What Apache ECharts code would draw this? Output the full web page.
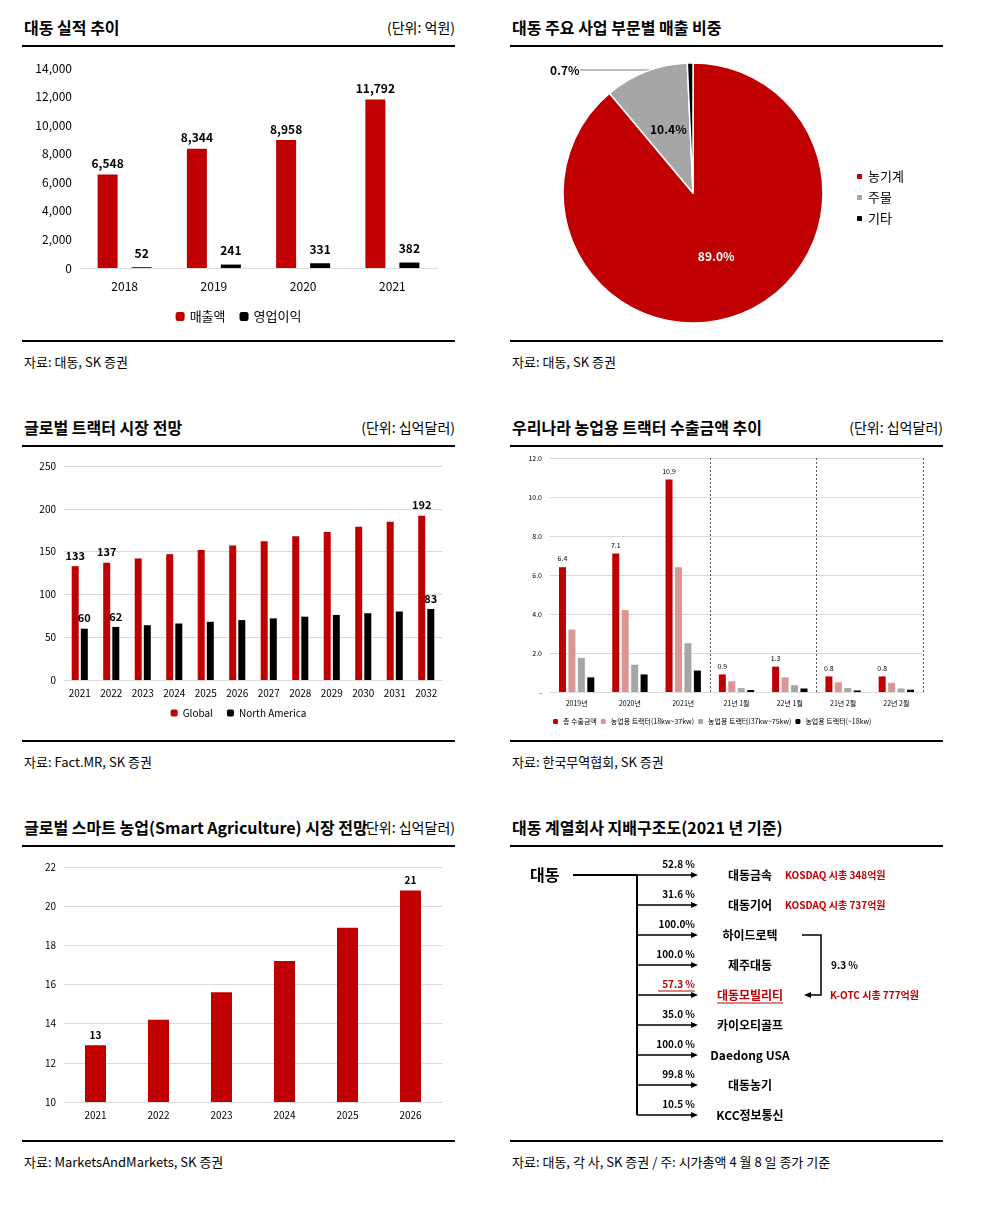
<!DOCTYPE html>
<html>
<head>
<meta charset="utf-8">
<script src="https://cdn.jsdelivr.net/npm/echarts@6/dist/echarts.min.js"></script>
<style>
  body { margin: 0; background: #fff; font-family: "Noto Sans CJK KR", sans-serif; }
  .abs { position: absolute; }
  .title { font-size: 16px; font-weight: bold; color: #000; }
  .unit { font-size: 14px; color: #000; }
  .src { font-size: 13px; color: #000; }
  .rule { position: absolute; height: 2px; background: #000; }
</style>
</head>
<body>
<div id="page" style="position:relative;width:990px;height:1210px;"></div>
<script>
// ---- data ----
var salesYears = ["2018", "2019", "2020", "2021"];
var salesRevenue = [6548, 8344, 8958, 11792];
var salesProfit = [52, 241, 331, 382];

var pieNames = ["농기계", "주물", "기타"];
var pieValues = [89.0, 10.4, 0.7];

var tractorYears = ["2021","2022","2023","2024","2025","2026","2027","2028","2029","2030","2031","2032"];
var tractorGlobal = [133, 137, 142, 147, 152, 157, 162, 168, 173, 179, 185, 192];
var tractorNA = [60, 62, 64, 66, 68, 70, 72, 74, 76, 78, 80, 83];
var tractorGlobalShown = [0, 1, 11];
var tractorNAShown = [0, 1, 11];

var exportCats = ["2019년", "2020년", "2021년", "21년 1월", "22년 1월", "21년 2월", "22년 2월"];
var exportTotal = [6.4, 7.1, 10.9, 0.9, 1.3, 0.8, 0.8];
var export18to37 = [3.2, 4.2, 6.4, 0.55, 0.75, 0.5, 0.47];
var export37to75 = [1.75, 1.4, 2.5, 0.2, 0.35, 0.2, 0.18];
var exportUnder18 = [0.75, 0.9, 1.1, 0.1, 0.18, 0.08, 0.12];

var smartYears = ["2021", "2022", "2023", "2024", "2025", "2026"];
var smartValues = [12.9, 14.2, 15.6, 17.2, 18.9, 20.8];

var orgPcts = ["52.8 %", "31.6 %", "100.0%", "100.0 %", "57.3 %", "35.0 %", "100.0 %", "99.8 %", "10.5 %"];
var orgNames = ["대동금속", "대동기어", "하이드로텍", "제주대동", "대동모빌리티", "카이오티골프", "Daedong USA", "대동농기", "KCC정보통신"];
var orgNotes = ["KOSDAQ 시총 348억원", "KOSDAQ 시총 737억원", "", "", "", "", "", "", ""];

var RED = "#C00000", FONT = "Noto Sans CJK KR";
var page = document.getElementById("page");

function addText(cls, txt, x, y, right) {
  var d = document.createElement("div");
  d.className = "abs " + cls;
  d.textContent = txt;
  d.style.top = y + "px";
  if (right) d.style.right = (990 - x) + "px"; else d.style.left = x + "px";
  page.appendChild(d);
}
function addRule(x, y, w) {
  var d = document.createElement("div");
  d.className = "rule"; d.style.left = x + "px"; d.style.top = y + "px"; d.style.width = w + "px";
  page.appendChild(d);
}
function addChart(x, y, w, h) {
  var d = document.createElement("div");
  d.className = "abs";
  d.style.left = x + "px"; d.style.top = y + "px"; d.style.width = w + "px"; d.style.height = h + "px";
  page.appendChild(d);
  return echarts.init(d);
}
function panel(x, y, title, unit, src) {
  addText("title", title, x + 2, y);
  if (unit) addText("unit", unit, x + 433, y + 2, true);
  addRule(x, y + 30, 433);
  addRule(x, y + 325, 433);
  addText("src", src, x + 2, y + 337);
}

panel(22, 15, "대동 실적 추이", "(단위: 억원)", "자료: 대동, SK 증권");
panel(510, 15, "대동 주요 사업 부문별 매출 비중", "", "자료: 대동, SK 증권");
panel(22, 415, "글로벌 트랙터 시장 전망", "(단위: 십억달러)", "자료: Fact.MR, SK 증권");
panel(510, 415, "우리나라 농업용 트랙터 수출금액 추이", "(단위: 십억달러)", "자료: 한국무역협회, SK 증권");
panel(22, 815, "글로벌 스마트 농업(Smart Agriculture) 시장 전망", "(단위: 십억달러)", "자료: MarketsAndMarkets, SK 증권");
panel(510, 815, "대동 계열회사 지배구조도(2021 년 기준)", "", "자료: 대동, 각 사, SK 증권 / 주: 시가총액 4 월 8 일 종가 기준");

var axisLbl = { color: "#000", fontFamily: FONT, fontSize: 12 };
var split = { lineStyle: { color: "#d9d9d9" } };

// chart 1
addChart(22, 50, 433, 290).setOption({
  animation: false,
  textStyle: { fontFamily: FONT },
  grid: { left: 58, right: 18, top: 18, bottom: 72 },
  legend: { bottom: 12, itemWidth: 9, itemHeight: 9, itemGap: 14, textStyle: { fontSize: 13, color: "#000" } },
  xAxis: { type: "category", data: salesYears, axisTick: { show: false }, axisLine: { lineStyle: { color: "#d9d9d9" } }, axisLabel: Object.assign({ margin: 12 }, axisLbl) },
  yAxis: { type: "value", min: 0, max: 14000, interval: 2000, axisLabel: axisLbl, splitLine: { show: false } },
  series: [
    { name: "매출액", type: "bar", data: salesRevenue, barWidth: 20, barGap: "70%", itemStyle: { color: RED },
      label: { show: true, position: "top", fontWeight: "bold", fontSize: 12, color: "#000", formatter: function (p) { return p.value.toLocaleString("en-US"); } } },
    { name: "영업이익", type: "bar", data: salesProfit, barWidth: 20, itemStyle: { color: "#000" },
      label: { show: true, position: "top", fontWeight: "bold", fontSize: 12, color: "#000", distance: 8 } }
  ]
});

// chart 2 pie
addChart(510, 50, 433, 290).setOption({
  animation: false,
  textStyle: { fontFamily: FONT },
  legend: { orient: "vertical", left: 340, top: 115, itemWidth: 7, itemHeight: 7, itemGap: 8, textStyle: { fontSize: 13, color: "#000" } },
  series: [{
    type: "pie", center: [183, 143], radius: 130, startAngle: 90, clockwise: true,
    itemStyle: { borderColor: "#fff", borderWidth: 1.5 },
    data: pieNames.map(function (n, i) {
      var c = [RED, "#A6A6A6", "#000"][i];
      var lbl = i === 2
        ? { show: true, position: "outside", color: "#000", fontWeight: "bold", fontSize: 12 }
        : { show: true, position: "inside", color: i === 0 ? "#fff" : "#000", fontWeight: "bold", fontSize: 12 };
      return { name: n, value: pieValues[i], itemStyle: { color: c }, label: lbl,
        labelLine: { show: i === 2, length: 8, length2: 80, lineStyle: { color: "#7f7f7f" } } };
    }),
    label: { formatter: function (p) { return p.value.toFixed(1) + "%"; } },
    labelLayout: function (p) { return p.dataIndex === 2 ? { x: 40, y: 20, align: "left" } : {}; }
  }]
});

// chart 3
function shownLabel(list) {
  return { show: true, position: "top", fontWeight: "bold", fontSize: 11, color: "#000",
    formatter: function (p) { return list.indexOf(p.dataIndex) >= 0 ? p.value : ""; } };
}
addChart(22, 450, 433, 285).setOption({
  animation: false,
  textStyle: { fontFamily: FONT },
  grid: { left: 42, right: 13, top: 16, bottom: 55 },
  legend: { bottom: 12, itemWidth: 7, itemHeight: 7, itemGap: 14, textStyle: { fontSize: 10, color: "#000" } },
  xAxis: { type: "category", data: tractorYears, axisTick: { show: false }, axisLine: { lineStyle: { color: "#d9d9d9" } }, axisLabel: Object.assign({}, axisLbl, { fontSize: 10 }) },
  yAxis: { type: "value", min: 0, max: 250, interval: 50, axisLabel: Object.assign({}, axisLbl, { fontSize: 10 }), splitLine: split },
  series: [
    { name: "Global", type: "bar", data: tractorGlobal, barWidth: 7, barGap: "30%", itemStyle: { color: RED }, label: shownLabel(tractorGlobalShown) },
    { name: "North America", type: "bar", data: tractorNA, barWidth: 7, itemStyle: { color: "#000" }, label: shownLabel(tractorNAShown) }
  ]
});

// chart 4
var small = { color: "#000", fontFamily: FONT, fontSize: 7 };
addChart(510, 448, 433, 290).setOption({
  animation: false,
  textStyle: { fontFamily: FONT },
  grid: { left: 40, right: 20, top: 10, bottom: 46 },
  legend: { bottom: 8, left: 38, itemWidth: 5, itemHeight: 5, itemGap: 4, textStyle: { fontSize: 7, color: "#000" } },
  xAxis: { type: "category", data: exportCats, axisTick: { show: false }, axisLine: { lineStyle: { color: "#d9d9d9" } }, axisLabel: small,
    splitLine: { show: true, interval: function (i) { return i === 3 || i === 5; }, lineStyle: { color: "#595959", type: [2, 2] } } },
  yAxis: { type: "value", min: 0, max: 12, interval: 2, splitLine: split,
    axisLabel: Object.assign({}, small, { formatter: function (v) { return v === 0 ? "-" : v.toFixed(1); } }) },
  series: [
    { name: "총 수출금액", type: "bar", data: exportTotal, barWidth: 7, barGap: "35%", itemStyle: { color: RED },
      label: { show: true, position: "top", fontSize: 7, color: "#000" } },
    { name: "농업용 트랙터(18kw~37kw)", type: "bar", data: export18to37, barWidth: 7, itemStyle: { color: "#D99694" } },
    { name: "농업용 트랙터(37kw~75kw)", type: "bar", data: export37to75, barWidth: 7, itemStyle: { color: "#A6A6A6" } },
    { name: "농업용 트랙터(~18kw)", type: "bar", data: exportUnder18, barWidth: 7, itemStyle: { color: "#000" } }
  ]
});

// chart 5
addChart(22, 852, 433, 285).setOption({
  animation: false,
  textStyle: { fontFamily: FONT },
  grid: { left: 42, right: 13, top: 15, bottom: 35 },
  xAxis: { type: "category", data: smartYears, axisTick: { show: false }, axisLine: { lineStyle: { color: "#d9d9d9" } }, axisLabel: Object.assign({}, axisLbl, { fontSize: 10 }) },
  yAxis: { type: "value", min: 10, max: 22, interval: 2, axisLabel: Object.assign({}, axisLbl, { fontSize: 10 }), splitLine: split },
  series: [{ type: "bar", data: smartValues, barWidth: 21, itemStyle: { color: RED },
    label: { show: true, position: "top", fontWeight: "bold", fontSize: 10, color: "#000",
      formatter: function (p) { return (p.dataIndex === 0 || p.dataIndex === smartValues.length - 1) ? Math.round(p.value) : ""; } } }]
});

// org chart
var g = [];
var ln = { stroke: "#000", lineWidth: 1.5 };
function arrowHead(x, y, dir) {
  return { type: "polygon", shape: { points: [[x, y], [x - 7 * dir, y - 3], [x - 7 * dir, y + 3]] }, style: { fill: "#000" } };
}
var rowY = function (i) { return 25 + i * 30; };
g.push({ type: "text", x: 20, y: 25, style: { text: "대동", font: "bold 16px " + FONT, fill: "#000", verticalAlign: "middle" } });
g.push({ type: "line", shape: { x1: 63, y1: 25, x2: 127, y2: 25 }, style: { stroke: "#000", lineWidth: 2 } });
g.push({ type: "line", shape: { x1: 127, y1: 25, x2: 127, y2: rowY(8) }, style: { stroke: "#000", lineWidth: 2 } });
orgNames.forEach(function (n, i) {
  var y = rowY(i), red = i === 4;
  g.push({ type: "line", shape: { x1: 127, y1: y, x2: 185, y2: y }, style: ln });
  g.push(arrowHead(188, y, 1));
  g.push({ type: "text", x: 185, y: y - 11, style: { text: orgPcts[i], font: "bold 10px " + FONT, fill: red ? RED : "#000", align: "right", verticalAlign: "middle" } });
  if (red) g.push({ type: "line", shape: { x1: 148, y1: y - 4, x2: 185, y2: y - 4 }, style: { stroke: RED, lineWidth: 1 } });
  g.push({ type: "text", x: 240, y: y, style: { text: n, font: "bold 12px " + FONT, fill: red ? RED : "#000", align: "center", verticalAlign: "middle" } });
  if (red) g.push({ type: "line", shape: { x1: 207, y1: y + 8, x2: 273, y2: y + 8 }, style: { stroke: RED, lineWidth: 1 } });
  if (orgNotes[i]) g.push({ type: "text", x: 275, y: y, style: { text: orgNotes[i], font: "bold 10px " + FONT, fill: RED, verticalAlign: "middle" } });
});
g.push({ type: "polyline", shape: { points: [[292, rowY(2)], [311, rowY(2)], [311, rowY(4)], [300, rowY(4)]] }, style: { stroke: "#000", lineWidth: 1.5, fill: null } });
g.push(arrowHead(294, rowY(4), -1));
g.push({ type: "text", x: 321, y: rowY(3), style: { text: "9.3 %", font: "bold 10px " + FONT, fill: "#000", verticalAlign: "middle" } });
g.push({ type: "text", x: 320, y: rowY(4), style: { text: "K-OTC 시총 777억원", font: "bold 10px " + FONT, fill: RED, verticalAlign: "middle" } });
addChart(510, 850, 440, 280).setOption({ animation: false, graphic: g });
</script>
</body>
</html>
